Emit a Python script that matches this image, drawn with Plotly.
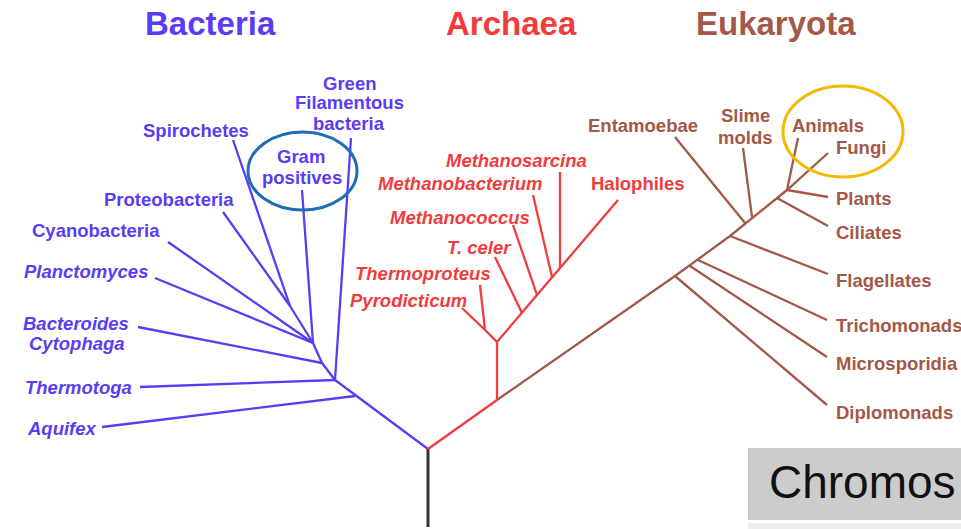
import plotly.graph_objects as go

BLUE = "#5a3cf4"
RED = "#f03c3c"
BROWN = "#a35848"

# tree segments in picture units (x0, y0, x1, y1), y grows downward
trunk = [(428, 527, 428, 449)]

bacteria_segments = [
    (428, 449, 335, 380),
    (355, 396, 102, 427),
    (335, 380, 140, 387),
    (335, 380, 351, 138),
    (335, 380, 322, 363),
    (322, 363, 313, 343),
    (322, 363, 138, 327),
    (313, 343, 302, 190),
    (313, 343, 155, 278),
    (313, 343, 168, 242),
    (313, 343, 290, 306),
    (290, 306, 223, 212),
    (290, 306, 233, 140),
]

archaea_segments = [
    (428, 449, 497, 400),
    (497, 400, 497, 342),
    (497, 342, 485, 330),
    (485, 330, 480, 285),
    (485, 330, 462, 308),
    (497, 342, 618, 200),
    (522, 313, 495, 257),
    (537, 295, 513, 225),
    (552, 277, 533, 195),
    (560, 268, 560, 172),
]

eukaryota_stem_x = [497, 640, 675, 730, 787, 828]
eukaryota_stem_y = [400, 300, 276, 236, 190, 153]
eukaryota_segments = [
    (675, 276, 827, 405),
    (690, 266, 827, 357),
    (698, 260, 827, 320),
    (730, 236, 828, 274),
    (745, 223, 675, 137),
    (752, 217, 743, 148),
    (777, 198, 828, 226),
    (787, 190, 828, 197),
    (787, 190, 798, 138),
]

# labels (one entry per text line)
bacteria_names = ["Green", "Filamentous", "bacteria", "Spirochetes", "Gram", "positives",
                  "Proteobacteria", "Cyanobacteria", "<i>Planctomyces</i>",
                  "<i>Bacteroides</i>", "<i>Cytophaga</i>", "<i>Thermotoga</i>", "<i>Aquifex</i>"]
bacteria_x = [349, 349, 349, 196, 301, 302, 169, 96, 86, 76, 77, 78, 62]
bacteria_y = [83, 102, 123, 130, 156, 177, 199, 230, 271, 323, 343, 387, 428]

archaea_names = ["<i>Methanosarcina</i>", "<i>Methanobacterium</i>", "Halophiles",
                 "<i>Methanococcus</i>", "<i>T. celer</i>", "<i>Thermoproteus</i>",
                 "<i>Pyrodicticum</i>"]
archaea_x = [516, 460, 638, 460, 479, 423, 408]
archaea_y = [160, 183, 183, 217, 247, 273, 300]

eukaryota_names = ["Entamoebae", "Slime", "molds", "Animals"]
eukaryota_x = [643, 745, 745, 828]
eukaryota_y = [125, 115, 137, 125]

eukaryota_right = ["Fungi", "Plants", "Ciliates", "Flagellates", "Trichomonads",
                   "Microsporidia", "Diplomonads"]
eukaryota_right_y = [147, 198, 232, 280, 325, 363, 412]

domains = ["Bacteria", "Archaea", "Eukaryota"]
domains_x = [210, 511, 776]
domain_colors = [BLUE, RED, BROWN]


def seg_xy(segs):
    xs, ys = [], []
    for x0, y0, x1, y1 in segs:
        xs += [x0, x1, None]
        ys += [y0, y1, None]
    return xs, ys


fig = go.Figure()
for segs, color, w in [(trunk, "#333333", 3), (bacteria_segments, BLUE, 2.3),
                       (archaea_segments, RED, 2.3), (eukaryota_segments, BROWN, 2.3)]:
    xs, ys = seg_xy(segs)
    fig.add_trace(go.Scatter(x=xs, y=ys, mode="lines", line=dict(color=color, width=w),
                             hoverinfo="skip", showlegend=False))
fig.add_trace(go.Scatter(x=eukaryota_stem_x, y=eukaryota_stem_y, mode="lines",
                         line=dict(color=BROWN, width=2.3), hoverinfo="skip", showlegend=False))

FONT = "Liberation Sans"
LABEL_SIZE = 18.5

def add_labels(names, xs, ys, color, anchor="center"):
    for t, x, y in zip(names, xs, ys):
        fig.add_annotation(x=x, y=y, text=t, showarrow=False, xanchor=anchor, yanchor="middle",
                           align="center",
                           font=dict(family=FONT, size=LABEL_SIZE, color=color, weight="bold"))

add_labels(bacteria_names, bacteria_x, bacteria_y, BLUE)
add_labels(archaea_names, archaea_x, archaea_y, RED)
add_labels(eukaryota_names, eukaryota_x, eukaryota_y, BROWN)
add_labels(eukaryota_right, [834] * len(eukaryota_right), eukaryota_right_y, BROWN, anchor="left")

for t, x, c in zip(domains, domains_x, domain_colors):
    fig.add_annotation(x=x, y=23, text=t, showarrow=False, xanchor="center", yanchor="middle",
                       font=dict(family=FONT, size=33, color=c, weight="bold"))

# highlight ellipses
fig.add_shape(type="circle", x0=248, x1=357, y0=132, y1=210, line=dict(color="#1f6db3", width=3))
fig.add_shape(type="circle", x0=783, x1=903, y0=86, y1=177, line=dict(color="#f5b800", width=3))

# grey box at bottom right
fig.add_shape(type="rect", x0=748, x1=961, y0=448, y1=520, fillcolor="#cccccc", line_width=0, layer="below")
fig.add_shape(type="rect", x0=748, x1=961, y0=523, y1=529, fillcolor="#eeeeee", line_width=0, layer="below")
fig.add_annotation(x=767, y=482, text="Chromos", showarrow=False, xanchor="left", yanchor="middle",
                   font=dict(family=FONT, size=46, color="#111111"))

fig.update_xaxes(range=[0, 961], visible=False, fixedrange=True)
fig.update_yaxes(range=[529, 0], visible=False, fixedrange=True)
fig.update_layout(width=961, height=529, margin=dict(l=0, r=0, t=0, b=0),
                  plot_bgcolor="white", paper_bgcolor="white")

fig.write_html("out.html", config={"displayModeBar": False},
               post_script="document.body.style.margin='0';")
